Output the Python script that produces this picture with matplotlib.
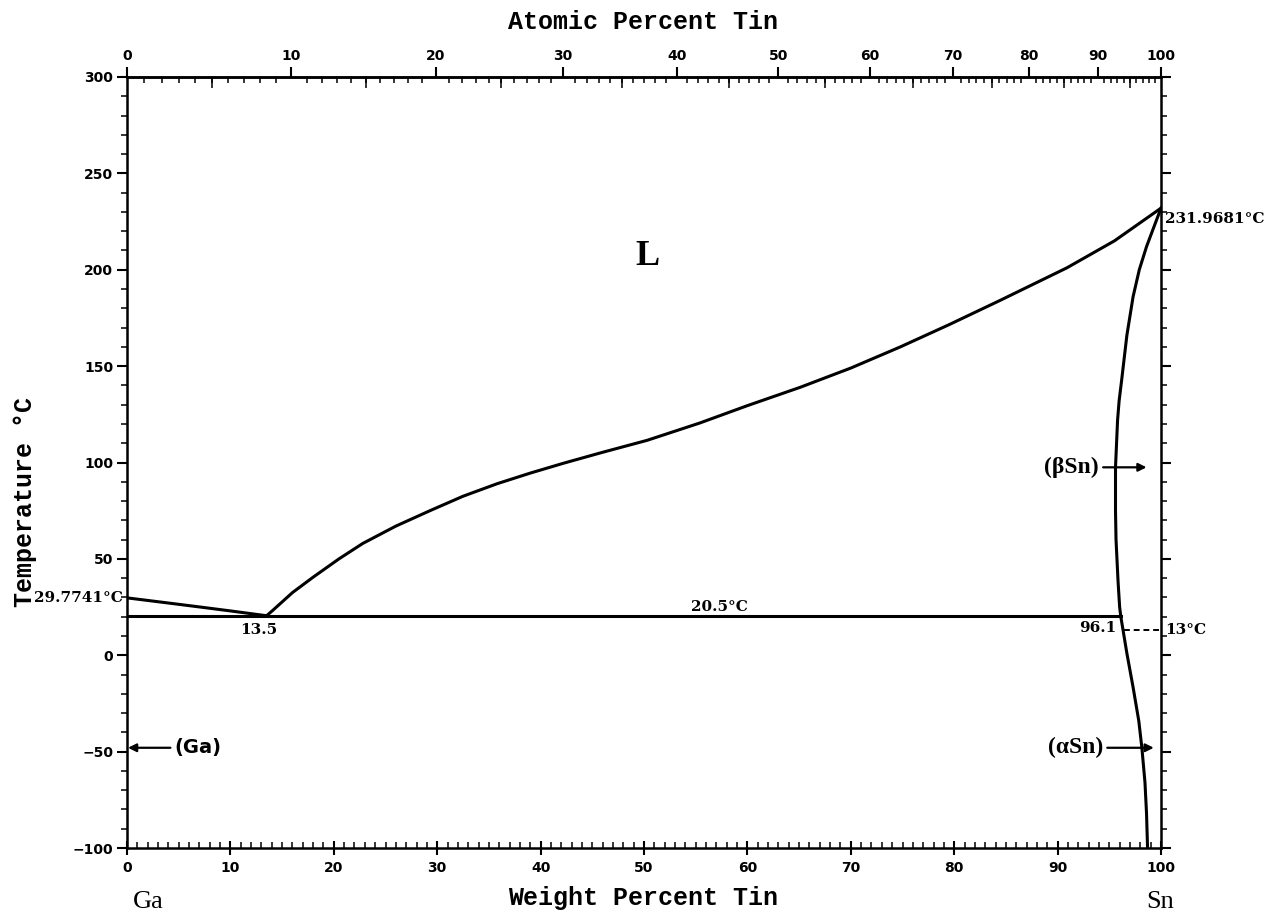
import numpy as np
import matplotlib
matplotlib.use("Agg")
import matplotlib.pyplot as plt
from matplotlib.ticker import MultipleLocator, FixedLocator, NullFormatter

# Ga-Sn phase diagram
GA_MASS = 69.723
SN_MASS = 118.71

# Ga-side liquidus (wt% Sn, degC)
liq_ga_wt = [0, 4.0, 7.1, 10.0, 13.5]
liq_ga_T = [29.7741, 27.1, 25.0, 23.0, 20.5]

# Sn-side liquidus
liq_sn_wt = [13.5, 14.1, 16.0, 18.0, 20.5, 22.8, 26.0, 29.3, 32.5, 35.8, 39.0,
             42.2, 46.0, 50.3, 55.4, 60.0, 65.1, 70.0, 74.8, 79.5, 84.4, 90.9, 95.5, 100]
liq_sn_T = [20.5, 23.3, 32.5, 40.5, 50.0, 58.0, 67.0, 75.0, 82.5, 89.0, 94.5,
            99.6, 105.3, 111.5, 120.5, 129.5, 139.0, 149.0, 160.0, 171.5, 184.0, 201.0, 215.0, 231.9681]

# (Sn) solvus, top to bottom
solvus_wt = [100, 99.3, 98.6, 97.9, 97.3, 96.7, 96.2, 95.95, 95.8, 95.6, 95.6, 95.65,
             95.85, 96.0, 96.1, 96.7, 97.3, 97.85, 98.15, 98.45, 98.6, 98.7]
solvus_T = [231.9681, 222, 212, 200, 186, 166, 143, 132, 122, 97.5, 75, 60,
            38, 25, 20.5, 1, -16.6, -34, -48, -66, -82, -100]

eutectic_wt = [0, 96.1]
eutectic_T = [20.5, 20.5]

transform_wt = [96.45, 100]
transform_T = [13, 13]

top_major = [0, 10, 20, 30, 40, 50, 60, 70, 80, 90, 100]
top_mid = [5, 15, 25, 35, 45, 55, 65, 75, 85, 95]
top_minor = list(range(0, 101))

TICK_FONT = dict(family="DejaVu Sans", weight="bold", size=10)
LBL_FONT = dict(family="DejaVu Serif", weight="bold", size=11)


def wt_to_at(w):
    w = np.clip(np.asarray(w, dtype=float), 0.0, 100.0)
    a = w / SN_MASS
    g = (100.0 - w) / GA_MASS
    return 100.0 * a / np.maximum(a + g, 1e-12)


def at_to_wt(x):
    x = np.clip(np.asarray(x, dtype=float), 0.0, 100.0)
    s = x * SN_MASS
    g = (100.0 - x) * GA_MASS
    return 100.0 * s / np.maximum(s + g, 1e-12)


fig = plt.figure(figsize=(12.83, 9.18), dpi=100)
ax = fig.add_axes([127 / 1283, 1 - 848 / 918, (1161 - 127) / 1283, (848 - 77) / 918])
ax.set_xlim(0, 100)
ax.set_ylim(-100, 300)

lw = 2.2
ax.plot(liq_ga_wt, liq_ga_T, color="black", lw=lw)
ax.plot(liq_sn_wt, liq_sn_T, color="black", lw=lw)
ax.plot(solvus_wt, solvus_T, color="black", lw=lw)
ax.plot(eutectic_wt, eutectic_T, color="black", lw=lw)
ax.plot(transform_wt, transform_T, color="black", lw=1.4, ls=(0, (3, 2)), clip_on=False)

for s in ax.spines.values():
    s.set_linewidth(1.8)

# bottom / left / right ticks
ax.xaxis.set_ticks_position("bottom")
ax.xaxis.set_major_locator(MultipleLocator(10))
ax.xaxis.set_minor_locator(MultipleLocator(1))
ax.yaxis.set_ticks_position("both")
ax.yaxis.set_major_locator(MultipleLocator(50))
ax.yaxis.set_minor_locator(MultipleLocator(10))
ax.tick_params(axis="x", which="major", direction="inout", length=10, width=1.5, pad=4)
ax.tick_params(axis="x", which="minor", direction="in", length=4, width=1.1)
ax.tick_params(axis="y", which="major", direction="out", length=7, width=1.5, pad=3)
ax.tick_params(axis="y", which="minor", direction="out", length=4, width=1.1)
ax.tick_params(axis="y", labelright=False)
for t in ax.get_xticklabels() + ax.get_yticklabels():
    t.set_fontproperties(TICK_FONT)

# atomic percent on top
top = ax.secondary_xaxis("top", functions=(wt_to_at, at_to_wt))
top.xaxis.set_major_locator(FixedLocator(top_major))
top.xaxis.set_minor_locator(FixedLocator(top_minor))
top.tick_params(which="major", direction="out", length=7, width=1.5, pad=3)
top.tick_params(which="minor", direction="in", length=4, width=1.1)
top.spines["top"].set_linewidth(1.8)
for t in top.get_xticklabels():
    t.set_fontproperties(TICK_FONT)

mid = ax.secondary_xaxis("top", functions=(wt_to_at, at_to_wt))
mid.xaxis.set_major_locator(FixedLocator(top_mid))
mid.xaxis.set_major_formatter(NullFormatter())
mid.tick_params(which="major", direction="in", length=8, width=1.1)
mid.spines["top"].set_visible(False)

# axis titles
fig.text(643 / 1283, 1 - 22 / 918, "Atomic Percent Tin", ha="center", va="center",
         family="Liberation Mono", weight="bold", size=18)
fig.text(643 / 1283, 1 - 898 / 918, "Weight Percent Tin", ha="center", va="center",
         family="Liberation Mono", weight="bold", size=18)
fig.text(25 / 1283, 1 - 502 / 918, "Temperature °C", ha="center", va="center", rotation=90,
         family="Liberation Mono", weight="bold", size=18)
fig.text(148 / 1283, 1 - 902 / 918, "Ga", ha="center", va="center",
         family="Liberation Serif", size=19)
fig.text(1160 / 1283, 1 - 902 / 918, "Sn", ha="center", va="center",
         family="Liberation Serif", size=19)

# annotations
ax.text(50.3, 207, "L", ha="center", va="center", family="Liberation Serif",
        weight="bold", size=26)
ax.text(-0.4, 29.77, "29.7741°C", ha="right", va="center", clip_on=False, **LBL_FONT)
ax.text(100.4, 226.5, "231.9681°C", ha="left", va="center", clip_on=False, **LBL_FONT)
ax.text(100.4, 13, "13°C", ha="left", va="center", clip_on=False, **LBL_FONT)
ax.text(12.7, 13, "13.5", ha="center", va="center", **LBL_FONT)
ax.text(57.3, 25, "20.5°C", ha="center", va="center", **LBL_FONT)
ax.text(93.9, 14, "96.1", ha="center", va="center", **LBL_FONT)

arrow = dict(arrowstyle="-|>", color="black", lw=1.6, mutation_scale=12, shrinkA=1, shrinkB=0)
ax.annotate("(βSn)", xy=(98.6, 97.5), xytext=(94.0, 97.5), ha="right", va="center",
            family="Liberation Serif", weight="bold", size=17, arrowprops=arrow)
ax.annotate("(αSn)", xy=(99.3, -48), xytext=(94.4, -48), ha="right", va="center",
            family="Liberation Serif", weight="bold", size=17, arrowprops=arrow)
ax.annotate("(Ga)", xy=(0.1, -48), xytext=(4.6, -48), ha="left", va="center",
            family="DejaVu Sans", weight="bold", size=14, arrowprops=arrow)

fig.savefig("out.png", dpi=100, facecolor="white")
